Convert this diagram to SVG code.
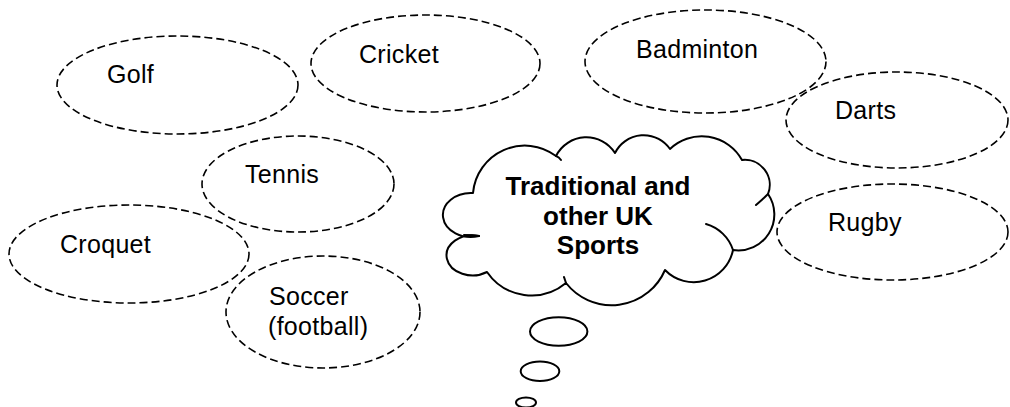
<svg xmlns="http://www.w3.org/2000/svg" width="1010" height="407" viewBox="0 0 1010 407">
  <style>
    .topic { fill: none; stroke: #000; stroke-width: 1.6; stroke-dasharray: 8 4; }
    .label { font-family: "Liberation Sans", Arial, sans-serif; font-size: 25px; letter-spacing: 0.3px; fill: #000; }
    .title { font-family: "Liberation Sans", Arial, sans-serif; font-size: 26px; font-weight: bold; fill: #000; text-anchor: middle; }
    .cloud { fill: #fff; stroke: #000; stroke-width: 2; stroke-linejoin: round; }
    .fold { fill: none; stroke: #000; stroke-width: 2; stroke-linecap: round; }
    .bubble { fill: #fff; stroke: #000; stroke-width: 2; }
  </style>
  <rect width="1010" height="407" fill="#fff"/>

  <!-- sport topics: dashed ovals -->
  <g id="golf">
    <ellipse class="topic" cx="177.5" cy="85" rx="120.5" ry="49"/>
    <text class="label" x="107" y="83">Golf</text>
  </g>
  <g id="cricket">
    <ellipse class="topic" cx="425.5" cy="63.5" rx="114.5" ry="48.5"/>
    <text class="label" x="359" y="62.5">Cricket</text>
  </g>
  <g id="tennis">
    <ellipse class="topic" cx="298" cy="184" rx="96" ry="48"/>
    <text class="label" x="245" y="182.5">Tennis</text>
  </g>
  <g id="croquet">
    <ellipse class="topic" cx="129" cy="254" rx="120" ry="49"/>
    <text class="label" x="60" y="253">Croquet</text>
  </g>
  <g id="soccer">
    <ellipse class="topic" cx="323" cy="312" rx="97" ry="56"/>
    <text class="label" x="269" y="305">Soccer</text>
    <text class="label" x="268" y="335">(football)</text>
  </g>
  <g id="badminton">
    <ellipse class="topic" cx="705.5" cy="61.5" rx="120.5" ry="51.5"/>
    <text class="label" x="636" y="58">Badminton</text>
  </g>
  <g id="darts">
    <ellipse class="topic" cx="897" cy="120" rx="111" ry="48"/>
    <text class="label" x="835" y="119">Darts</text>
  </g>
  <g id="rugby">
    <ellipse class="topic" cx="892.5" cy="232" rx="115.5" ry="48"/>
    <text class="label" x="828" y="230.5">Rugby</text>
  </g>

  <!-- thought trail leading to the central cloud -->
  <g id="connectors">
    <ellipse class="bubble" cx="558.7" cy="331.5" rx="28.7" ry="14.2"/>
    <ellipse class="bubble" cx="540" cy="371.3" rx="19.3" ry="9.7"/>
    <ellipse class="bubble" cx="526" cy="402.5" rx="10" ry="5"/>
  </g>

  <!-- central thought cloud -->
  <g id="uk-sports">
    <path class="cloud" d="M 473 193
      A 52 52 0 0 1 556 156
      A 34 34 0 0 1 615 153
      A 32 32 0 0 1 670 149
      A 46 46 0 0 1 742 160
      A 25 25 0 0 1 768 194
      A 36 36 0 0 1 733 250
      A 40 40 0 0 1 665 270
      A 58 58 0 0 1 566 283
      A 54 54 0 0 1 487 272
      A 26 20 0 1 1 479 236
      A 28 22 0 1 1 473 193 Z"/>
    <!-- inner folds of the cloud outline -->
    <path class="fold" d="M 706 224 A 40 40 0 0 1 733 250"/>
    <path class="fold" d="M 464 235 Q 472 235 479 236"/>
    <path class="fold" d="M 556 156 Q 559 157 561 160"/>
    <path class="fold" d="M 768 194 Q 762 200 756 205"/>
    <path class="fold" d="M 566 283 Q 565 280 564 277"/>
    <text class="title" x="598" y="195">Traditional and</text>
    <text class="title" x="598" y="225">other UK</text>
    <text class="title" x="598" y="254">Sports</text>
  </g>
</svg>
